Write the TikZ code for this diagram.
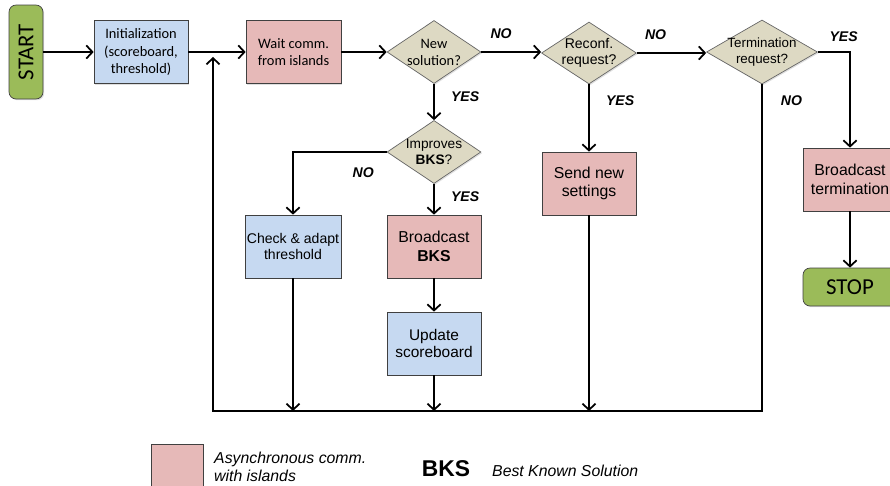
\documentclass[tikz,border=0pt]{standalone}
\usepackage{fontspec}
\setmainfont{Liberation Sans}
\newfontfamily\calfont{Carlito}
\usetikzlibrary{arrows.meta,shapes.geometric,shadows}
\definecolor{termgreen}{HTML}{9BBB59}
\definecolor{boxblue}{HTML}{C6D9F1}
\definecolor{boxpink}{HTML}{E6B9B8}
\definecolor{decisiontan}{HTML}{DDD9C3}

\begin{document}
\begin{tikzpicture}[x=0.02cm, y=-0.02cm,
    >={Straight Barb[length=3.5pt,width=7.5pt,line width=1pt]},
    flow/.style={line width=0.8pt, black},
    shade/.style={drop shadow={opacity=0.25, shadow xshift=0.7pt, shadow yshift=-0.7pt}},
    box/.style={draw=black!75, shade, align=center, inner sep=1pt,
        minimum width=1.88cm, minimum height=1.26cm},
    localbox/.style={box, fill=boxblue},
    commbox/.style={box, fill=boxpink, font={\fontsize{9}{10.5}\selectfont}},
    terminal/.style={draw=black!75, shade, fill=termgreen, rounded corners=4pt,
        font={\calfont\fontsize{13}{14}\selectfont}},
    decision/.style={diamond, draw=black!60, shade, fill=decisiontan, align=center,
        inner sep=-8pt, minimum width=1.88cm, minimum height=1.26cm,
        font={\fontsize{8}{9.4}\selectfont}},
    answer/.style={font={\fontsize{8}{9}\selectfont\bfseries\itshape}}
]
    \path[use as bounding box, clip] (0,0) rectangle (890,486);

    % Start and setup
    \node[terminal, rotate=90, minimum width=1.88cm, minimum height=0.68cm] (start) at (26,52) {START};
    \node[localbox, font={\calfont\fontsize{8.2}{9.8}\selectfont}] (init) at (141,52) {Initialization\\(scoreboard,\\threshold)};
    \node[commbox, minimum width=1.9cm, font={\calfont\fontsize{8.2}{9.8}\selectfont}] (wait) at (293.5,52) {Wait comm.\\from islands};

    % Decisions
    \node[decision, font={\calfont\fontsize{8.2}{9.6}\selectfont}] (newsol) at (434,52) {New\\solution?};
    \node[decision, minimum width=1.9cm, minimum height=1.24cm] (reconf) at (589,53) {Reconf.\\request?};
    \node[decision, minimum width=2.22cm, minimum height=1.28cm, font={\fontsize{7.6}{9}\selectfont}] (term) at (762,52) {Termination\\request?};
    \node[decision, font={\fontsize{7.8}{9.4}\selectfont}] (improves) at (434,152) {Improves\\\textbf{BKS}?};

    % Actions
    \node[localbox, font={\fontsize{8}{9.4}\selectfont}] (check) at (293,246.5) {Check \& adapt\\threshold};
    \node[commbox] (bcast) at (434,246.5) {Broadcast\\\textbf{BKS}};
    \node[localbox, font={\fontsize{8.8}{10.2}\selectfont}] (update) at (434,343.5) {Update\\scoreboard};
    \node[commbox] (send) at (589,183.5) {Send new\\settings};
    \node[commbox] (bterm) at (850,179.5) {Broadcast\\termination};
    \node[terminal, minimum width=1.88cm, minimum height=0.76cm] (stop) at (850,287) {STOP};

    \coordinate (back) at (213,411);
    \coordinate (merge) at (213,57);

    % Connectors
    \draw[flow, ->] (start.south) -- (init.west);
    \draw[flow, ->] (init) -- (wait);
    \draw[flow, ->] (wait) -- (newsol);
    \draw[flow, ->] (newsol) -- node[answer, pos=0.33, above=4pt] (no1) {NO} (reconf.west |- newsol.east);
    \draw[flow, ->] (reconf.east) -- node[answer, pos=0.27, above=4pt] (no2) {NO} (term.west |- reconf.east);
    \draw[flow, ->] (term.east) -| node[answer, pos=0.4, above=2pt] (yes3) {YES} (bterm.north);
    \draw[flow, ->] (newsol) -- node[answer, pos=0.35, right=6pt] (yes1) {YES} (improves);
    \draw[flow, ->] (improves) -- node[answer, pos=0.4, right=6pt] (yes4) {YES} (bcast);
    \draw[flow, ->] (improves.west) -| node[answer, pos=0.125, below=5pt] (no4) {NO} (check.north);
    \draw[flow, ->] (reconf.south) -- node[answer, pos=0.24, right=6pt] (yes2) {YES} (send.north);
    \draw[flow, ->] (bcast) -- (update);
    \draw[flow, ->] (bterm) -- (stop);
    \draw[flow, ->] (check.south) -- (check.south |- back);
    \draw[flow, ->] (update.south) -- (update.south |- back);
    \draw[flow, ->] (send.south) -- (send.south |- back);
    \draw[flow, ->] (term.south) |- node[answer, pos=0.025, right=7pt] (no3) {NO} (back) -- (merge);

    % Legend
    \node[draw=black!75, fill=boxpink, shade, minimum width=1.04cm, minimum height=1.04cm] (legsq) at (177,470) {};
    \node[anchor=west, align=left, font={\fontsize{9}{10}\selectfont\itshape}] (legasync) at (208,467) {Asynchronous comm.\\with islands};
    \node[font={\fontsize{13}{14}\selectfont\bfseries}] (legbks) at (446,469) {BKS};
    \node[anchor=west, font={\fontsize{9}{10}\selectfont\itshape}] (legdef) at (486,471) {Best Known Solution};
\end{tikzpicture}
\end{document}
